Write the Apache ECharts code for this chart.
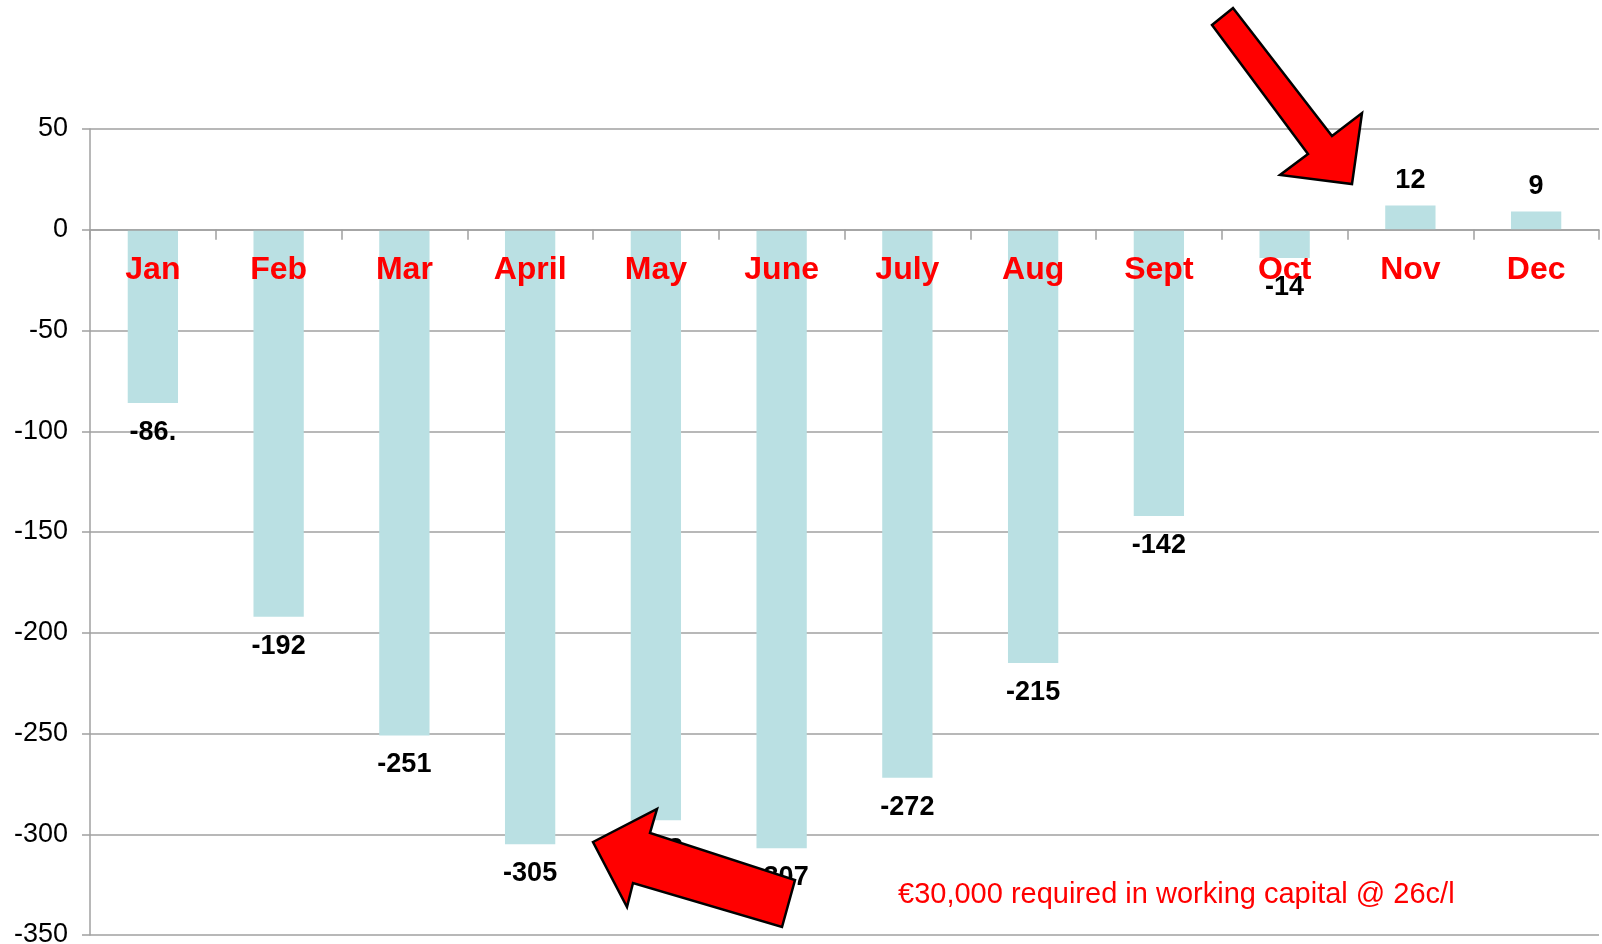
<!DOCTYPE html>
<html>
<head>
<meta charset="utf-8">
<title>Working capital</title>
<script src="https://cdn.jsdelivr.net/npm/echarts@6/dist/echarts.min.js"></script>
<style>
    html, body { margin: 0; padding: 0; background: #fff; }
    #main { width: 1602px; height: 944px; }
</style>
</head>
<body>
<div id="main"></div>
<script>
// chart data
var months = ['Jan', 'Feb', 'Mar', 'April', 'May', 'June', 'July', 'Aug', 'Sept', 'Oct', 'Nov', 'Dec'];
var values = [-86, -192, -251, -305, -293, -307, -272, -215, -142, -14, 12, 9];
var valueLabels = ['-86.', '-192', '-251', '-305', '-293', '-307', '-272', '-215', '-142', '-14', '12', '9'];
var yTicks = [50, 0, -50, -100, -150, -200, -250, -300, -350];
var note = '€30,000 required in working capital @ 26c/l';

var font = 'Liberation Sans, Arial, sans-serif';
var grey = '#a0a0a0';

function initChart() {
    var myChart = echarts.init(document.getElementById('main'));

    var barData = values.map(function (v, i) {
        return {
            value: v,
            label: {
                position: v < 0 ? 'bottom' : 'top',
                distance: v < 0 ? 16 : 12,
                formatter: valueLabels[i]
            }
        };
    });

    // month names sit on the zero line, drawn over the bars
    var monthData = months.map(function (m) {
        return 0;
    });

    var option = {
        animation: false,
        grid: { left: 90, right: 3, top: 129, bottom: 9, containLabel: false, outerBoundsMode: 'none' },
        xAxis: {
            type: 'category',
            data: months,
            z: 5,
            axisLine: { onZero: true, lineStyle: { color: grey, width: 1.5 } },
            axisTick: { show: true, length: 10, lineStyle: { color: grey, width: 1.5 } },
            axisLabel: { show: false },
            splitLine: { show: false }
        },
        yAxis: {
            type: 'value',
            min: yTicks[yTicks.length - 1],
            max: yTicks[0],
            interval: 50,
            axisLine: { show: true, lineStyle: { color: grey, width: 1.5 } },
            axisTick: { show: true, length: 8, lineStyle: { color: grey, width: 1.5 } },
            axisLabel: {
                color: '#000',
                fontFamily: font,
                fontSize: 27,
                margin: 22
            },
            splitLine: { show: true, lineStyle: { color: grey, width: 1.5 } }
        },
        series: [
            {
                type: 'bar',
                data: barData,
                barWidth: '40%',
                itemStyle: { color: '#bae0e3' },
                label: {
                    show: true,
                    color: '#000',
                    fontFamily: font,
                    fontWeight: 'bold',
                    fontSize: 27
                }
            },
            {
                type: 'scatter',
                data: monthData,
                symbolSize: 1,
                itemStyle: { color: 'rgba(0,0,0,0)' },
                silent: true,
                z: 4,
                label: {
                    show: true,
                    position: 'bottom',
                    distance: 24,
                    formatter: function (p) { return months[p.dataIndex]; },
                    color: '#ff0000',
                    opacity: 1,
                    textBorderWidth: 0,
                    fontFamily: font,
                    fontWeight: 'bold',
                    fontSize: 32
                }
            }
        ],
        graphic: [
            {
                // arrow pointing at November
                type: 'polygon',
                z: 100,
                shape: {
                    points: [[1212, 25], [1233, 8], [1332, 136], [1362, 113], [1352, 184], [1280, 175], [1308, 154]]
                },
                style: { fill: '#ff0000', stroke: '#000', lineWidth: 2.5 }
            },
            {
                // arrow pointing at the low point
                type: 'polygon',
                z: 100,
                shape: {
                    points: [[593, 842], [657, 809], [650, 833], [795, 880], [782, 927], [633, 883], [627, 907]]
                },
                style: { fill: '#ff0000', stroke: '#000', lineWidth: 2.5 }
            },
            {
                type: 'text',
                z: 100,
                x: 898,
                y: 895,
                style: {
                    text: note,
                    fill: '#ff0000',
                    font: '29px ' + font,
                    verticalAlign: 'middle'
                }
            }
        ]
    };

    myChart.setOption(option);
}

initChart();
</script>
</body>
</html>
